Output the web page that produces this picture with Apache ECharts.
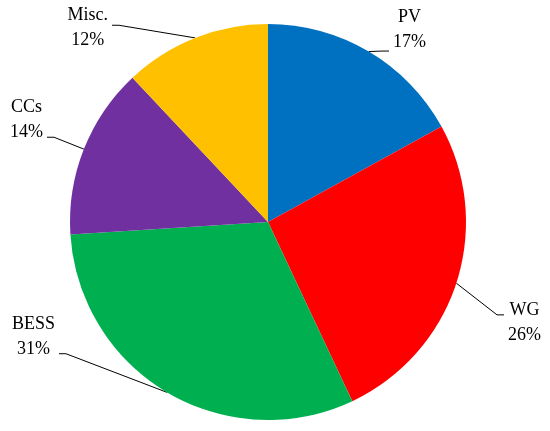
<!DOCTYPE html>
<html>
<head>
<meta charset="utf-8">
<script src="https://cdn.jsdelivr.net/npm/echarts@6/dist/echarts.min.js"></script>
<style>
    html, body { margin: 0; padding: 0; background: #fff; }
    #sharePie { width: 550px; height: 431px; }
</style>
</head>
<body>
<div id="sharePie"></div>
<script>
var names = ['PV', 'WG', 'BESS', 'CCs', 'Misc.'];
var shares = [17, 26, 31, 14, 12];
var colorList = ['#0070C0', '#FF0000', '#00B050', '#7030A0', '#FFC000'];

// label placement: radial part, horizontal part, text moved up/down, where the leader touches the text
var lineLen = [25, 20, 5, 20, 5];
var lineLen2 = [6.5, 27.7, 104.7, 17.3, 80.3];
var textShift = [0, 33, -60, -22, -5];
var attachDy = [21, -7.5, 17, 17.5, -3];

var sharePie = echarts.init(document.getElementById('sharePie'));

var pieData = names.map(function (n, i) {
    var s = textShift[i];
    return {
        name: n,
        value: shares[i],
        itemStyle: { color: colorList[i] },
        label: { padding: s > 0 ? [2 * s, 0, 0, 0] : [0, 0, -2 * s, 0] },
        labelLine: { length: lineLen[i], length2: lineLen2[i] }
    };
});

var sharePieOption = {
    animation: false,
    series: [
        {
            type: 'pie',
            center: [268, 222],
            radius: 198,
            startAngle: 90,
            clockwise: true,
            avoidLabelOverlap: false,
            label: {
                show: true,
                position: 'outside',
                color: '#000',
                formatter: function (p) {
                    return '{t|' + p.name + '}\n{t|' + p.value + '%}';
                },
                rich: {
                    t: {
                        fontFamily: 'Liberation Serif',
                        fontSize: 18,
                        lineHeight: 25,
                        color: '#000',
                        align: 'center'
                    }
                }
            },
            labelLine: {
                show: true,
                lineStyle: { color: '#000', width: 1 }
            },
            labelLayout: function (p) {
                var i = p.dataIndex;
                var pts = p.labelLinePoints;
                if (!pts) {
                    return {};
                }
                var side = pts[2][0] >= pts[0][0] ? 1 : -1;
                var endX = pts[2][0] + side;
                var endY = pts[2][1] + textShift[i] + attachDy[i];
                return {
                    labelLinePoints: [pts[0], [endX - side * 7, endY], [endX, endY]]
                };
            },
            emphasis: { disabled: true },
            data: pieData
        }
    ]
};

sharePie.setOption(sharePieOption);
</script>
</body>
</html>
